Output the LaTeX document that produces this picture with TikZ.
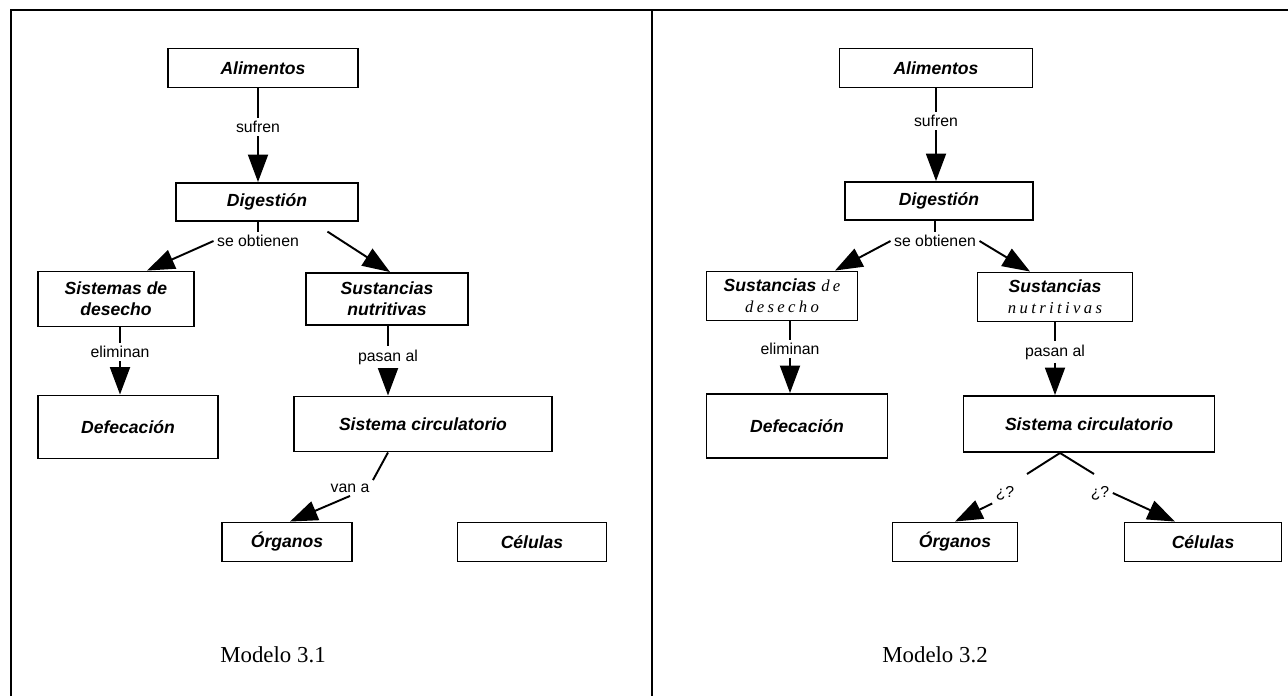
\documentclass[tikz,border=0pt]{standalone}
\usepackage{fontspec}
\setsansfont{Liberation Sans}
\newfontfamily\capfont{Liberation Serif}
\newfontfamily\spacedfont[LetterSpace=20]{Liberation Serif}
\newcommand\spacedtxt[1]{{\spacedfont\itshape\mdseries\fontsize{9.5}{11}\selectfont #1}}
\usetikzlibrary{arrows.meta}

\begin{document}
\begin{tikzpicture}[x=0.2mm, y=-0.2mm, line width=1.1pt,
		box/.style={draw, rectangle, inner sep=2pt, align=center,
			font=\sffamily\bfseries\itshape\fontsize{10}{12}\selectfont},
		lbl/.style={fill=white, inner sep=1.5pt, font=\sffamily\fontsize{9}{10}\selectfont},
		arr/.style={-{Triangle[length=5.5mm, width=4mm]}},
		caption/.style={font=\capfont\fontsize{13}{15}\selectfont}
		]
	\useasboundingbox (0,0) rectangle (1288,696);
	% frame
	\draw (11,696) -- (11,10) -- (1288,10);
	\draw (652,10) -- (652,696);

	% Modelo 3.1
	\node [box, minimum width=38mm, minimum height=7.8mm] (alim) at (263,68) {Alimentos};
	\node [lbl] (sufr) at (258,127) {sufren};
	\node [box, minimum width=36.4mm, minimum height=7.6mm] (dig) at (267,202) {Digestión};
	\draw (alim.south -| sufr) -- (sufr);
	\draw [arr] (sufr) -- (sufr |- dig.north);

	\node [lbl] (obt) at (258,241) {se obtienen};
	\node [box, minimum width=31.2mm, minimum height=11mm] (sis) at (116,299) {Sistemas de\\desecho};
	\node [box, minimum width=32.4mm, minimum height=10.4mm] (sus) at (387,299) {Sustancias\\nutritivas};
	\draw (dig.south -| obt) -- (obt);
	\draw [arr] (obt.west) -- ([xshift=6.2mm]sis.north);
	\draw [arr] ([xshift=5mm]obt.north east) -- ([xshift=0.6mm]sus.north);

	\node [lbl] (elim) at (120,352) {eliminan};
	\node [lbl] (pas) at (388,357) {pasan al};
	\node [box, minimum width=36mm, minimum height=12.6mm] (def) at (128,427) {Defecación};
	\node [box, minimum width=51.6mm, minimum height=11mm] (circ) at (423,424) {Sistema circulatorio};
	\draw (sis.south -| elim) -- (elim);
	\draw [arr] (elim) -- (elim |- def.north);
	\draw (sus.south -| pas) -- (pas);
	\draw [arr] (pas) -- (pas |- circ.north);

	\node [lbl] (van) at (350,488) {van a};
	\node [box, minimum width=26mm, minimum height=7.8mm] (org) at (287,542) {Órganos};
	\node [box, minimum width=29.8mm, minimum height=7.8mm] (cel) at (532,542) {Células};
	\draw ([xshift=-7mm]circ.south) -- (van.north east);
	\draw [arr] (van.south) -- ([xshift=0.6mm]org.north);

	\node [caption] (mod1) at (273,655) {Modelo 3.1};

	% Modelo 3.2
	\node [box, minimum width=38.6mm, minimum height=7.8mm] (alim2) at (936,68) {Alimentos};
	\node [lbl] (sufr2) at (936,121) {sufren};
	\node [box, minimum width=37.6mm, minimum height=7.6mm] (dig2) at (939,201) {Digestión};
	\draw (alim2.south -| sufr2) -- (sufr2);
	\draw [arr] (sufr2) -- (sufr2 |- dig2.north);

	\node [lbl] (obt2) at (935,241) {se obtienen};
	\node [box, minimum width=30.2mm, minimum height=9.8mm] (sde) at (782,296)
		{Sustancias \spacedtxt{de}\\\spacedtxt{desecho}};
	\node [box, minimum width=31mm, minimum height=9.8mm] (snu) at (1055,297)
		{Sustancias\\\spacedtxt{nutritivas}};
	\draw (dig2.south -| obt2) -- (obt2);
	\draw [arr] (obt2.west) -- ([xshift=10.6mm]sde.north);
	\draw [arr] (obt2.east) -- ([xshift=-5mm]snu.north);

	\node [lbl] (elim2) at (790,349) {eliminan};
	\node [lbl] (pas2) at (1055,352) {pasan al};
	\node [box, minimum width=36.2mm, minimum height=12.8mm] (def2) at (797,426) {Defecación};
	\node [box, minimum width=50.2mm, minimum height=11.2mm] (circ2) at (1089,424) {Sistema circulatorio};
	\draw (sde.south -| elim2) -- (elim2);
	\draw [arr] (elim2) -- (elim2 |- def2.north);
	\draw (snu.south -| pas2) -- (pas2);
	\draw [arr] (pas2) -- (pas2 |- circ2.north);

	\coordinate (brl) at (1027,474);
	\coordinate (brr) at (1094,474);
	\draw (brl) -- ([xshift=-5.8mm]circ2.south) -- (brr);
	\node [lbl] (q1) at (1005,493) {¿?};
	\node [lbl] (q2) at (1100,493) {¿?};
	\node [box, minimum width=25mm, minimum height=7.8mm] (org2) at (955,542) {Órganos};
	\node [box, minimum width=31.4mm, minimum height=7.8mm] (cel2) at (1203,542) {Células};
	\draw [arr] (q1.south west) -- (org2.north);
	\draw [arr] (q2.east) -- ([xshift=-5.6mm]cel2.north);

	\node [caption] (mod2) at (935,655) {Modelo 3.2};
\end{tikzpicture}
\end{document}
